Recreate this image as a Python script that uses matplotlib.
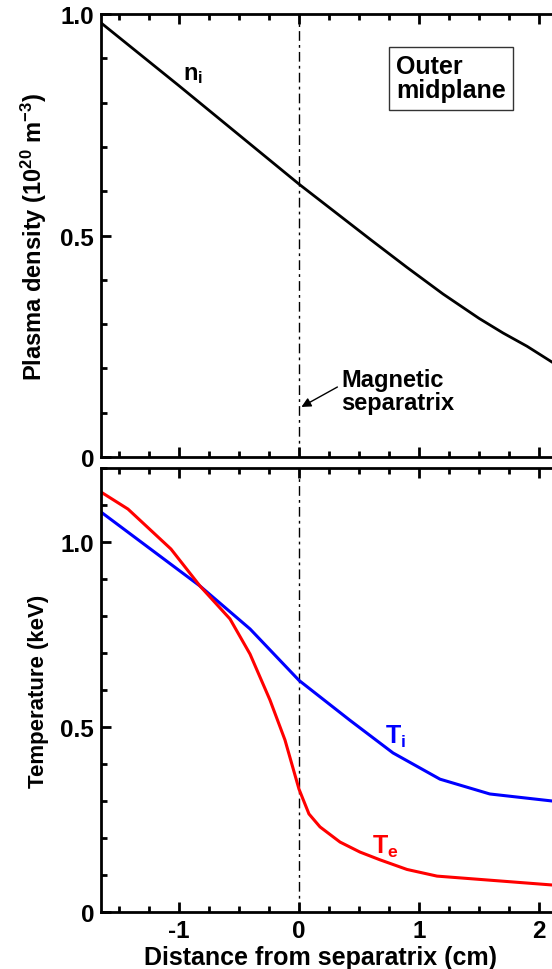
import matplotlib
matplotlib.use("Agg")
import matplotlib.pyplot as plt
from matplotlib.ticker import MultipleLocator

plt.rcParams['font.family'] = ['Liberation Sans', 'DejaVu Sans']
plt.rcParams['font.weight'] = 'bold'
plt.rcParams['mathtext.fontset'] = 'custom'
plt.rcParams['mathtext.rm'] = 'Liberation Sans:bold'
plt.rcParams['mathtext.it'] = 'Liberation Sans:bold'
plt.rcParams['mathtext.bf'] = 'Liberation Sans:bold'

# Outer-midplane radial profiles vs. distance from separatrix (cm)
x_ni = [-1.65, -1.0, -0.5, 0.0, 0.3, 0.6, 0.9, 1.2, 1.5, 1.7, 1.9, 2.11]
ni = [0.98, 0.838, 0.727, 0.616, 0.553, 0.49, 0.428, 0.368, 0.313, 0.28, 0.25, 0.214]

x_te = [-1.65, -1.425, -1.067, -0.825, -0.575, -0.408, -0.242, -0.117, 0.0,
        0.083, 0.175, 0.342, 0.508, 0.675, 0.9, 1.15, 1.59, 2.11]
te = [1.135, 1.089, 0.981, 0.881, 0.792, 0.697, 0.573, 0.465, 0.332,
      0.265, 0.23, 0.189, 0.162, 0.141, 0.115, 0.097, 0.086, 0.073]

x_ti = [-1.65, -0.825, -0.408, 0.0, 0.425, 0.783, 1.175, 1.59, 2.11]
ti = [1.081, 0.881, 0.765, 0.626, 0.518, 0.43, 0.359, 0.319, 0.30]

W, H = 552, 970
fig = plt.figure(figsize=(W / 100, H / 100), dpi=100)

x0, x1 = -1.65, 2.5
px_per_cm = 120
left = 101 / W
width = (x1 - x0) * px_per_cm / W

ax1 = fig.add_axes([left, 1 - 458 / H, width, (458 - 15) / H])
ax2 = fig.add_axes([left, 1 - 913 / H, width, (913 - 469) / H])

for ax in (ax1, ax2):
    ax.set_xlim(x0, x1)
    ax.xaxis.set_major_locator(MultipleLocator(1))
    ax.xaxis.set_minor_locator(MultipleLocator(0.25))
    ax.tick_params(which='both', direction='in', top=True, right=True,
                   width=2, labelsize=17.5, pad=5)
    ax.tick_params(which='major', length=7)
    ax.tick_params(which='minor', length=4)
    for s in ax.spines.values():
        s.set_linewidth(2)
    ax.axvline(0, color='black', lw=1, linestyle=(0, (7, 3, 2, 3)), zorder=1)

# Density panel
ax1.plot(x_ni, ni, color='black', lw=2)
ax1.set_ylim(0, 1.0)
ax1.set_yticks([0, 0.5, 1.0])
ax1.set_yticklabels(['0', '0.5', '1.0'])
ax1.yaxis.set_minor_locator(MultipleLocator(0.1))
ax1.tick_params(axis='x', labelbottom=False)
ax1.set_ylabel(r'Plasma density (10$^{20}$ m$^{-3}$)', fontsize=17,
               fontweight='bold', labelpad=8)
ax1.text(-0.97, 0.865, r'n$_{\mathregular{i}}$', fontsize=17, fontweight='bold',
         ha='left', va='center')
ax1.text(0.81, 0.855, 'Outer\nmidplane', fontsize=18, fontweight='bold',
         ha='left', va='center', linespacing=1.0,
         bbox=dict(boxstyle='square,pad=0.3', fc='white', ec='#333333', lw=1))
ax1.text(0.35, 0.15, 'Magnetic\nseparatrix', fontsize=17, fontweight='bold',
         ha='left', va='center', linespacing=1.0)
ax1.annotate('', xy=(0.02, 0.113), xytext=(0.32, 0.158),
             arrowprops=dict(arrowstyle='-|>', color='black', lw=1,
                             mutation_scale=14, shrinkA=0, shrinkB=0))

# Temperature panel
ax2.plot(x_ti, ti, color='#0000ff', lw=2.2)
ax2.plot(x_te, te, color='#ff0000', lw=2.2)
ax2.set_ylim(0, 1.2)
ax2.set_yticks([0, 0.5, 1.0])
ax2.set_yticklabels(['0', '0.5', '1.0'])
ax2.yaxis.set_minor_locator(MultipleLocator(0.1))
ax2.set_xticks([-1, 0, 1, 2])
ax2.set_xticklabels(['-1', '0', '1', '2'])
ax2.tick_params(axis='x', which='major', pad=5)
ax2.set_ylabel('Temperature (keV)', fontsize=16, fontweight='bold', labelpad=8)
ax2.set_xlabel('Distance from separatrix (cm)', fontsize=18, fontweight='bold')
ax2.xaxis.set_label_coords((320 - 101) / ((x1 - x0) * px_per_cm),
                           (913 - 965) / (913 - 469))
ax2.xaxis.label.set_verticalalignment('baseline')
ax2.text(0.72, 0.475, r'T$_{\mathregular{i}}$', color='#0000ff', fontsize=18,
         fontweight='bold', ha='left', va='center')
ax2.text(0.61, 0.18, r'T$_{\mathregular{e}}$', color='#ff0000', fontsize=18,
         fontweight='bold', ha='left', va='center')

fig.savefig('out.png', dpi=100)
